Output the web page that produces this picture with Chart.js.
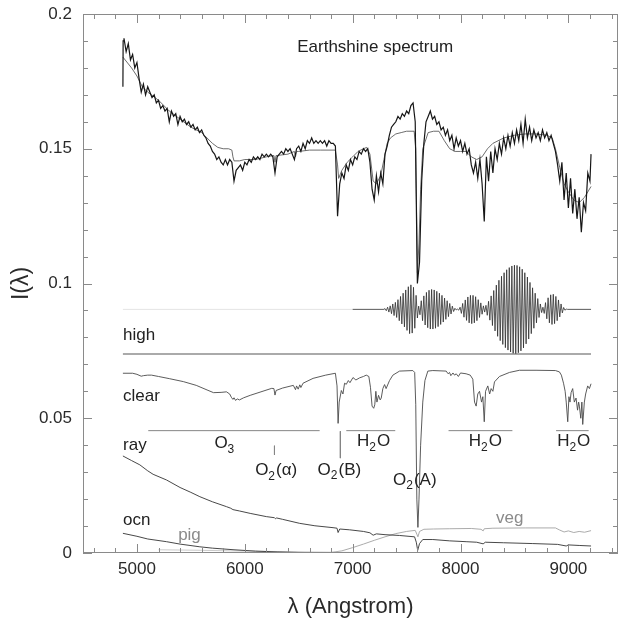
<!DOCTYPE html>
<html>
<head>
<meta charset="utf-8">
<script src="https://cdn.jsdelivr.net/npm/chart.js@4.4.1/dist/chart.umd.min.js"></script>
<style>
  html, body { margin: 0; padding: 0; background: #fff; }
  #wrap { width: 619px; height: 618px; }
</style>
</head>
<body>
<div id="wrap"><canvas id="spectrumChart" width="619" height="618"></canvas></div>
<script>
// axis ticks (minor every 200 A / 0.01, labelled every 1000 A / 0.05)
const xTicks = [4600, 4800, 5000, 5200, 5400, 5600, 5800, 6000, 6200, 6400, 6600, 6800,
  7000, 7200, 7400, 7600, 7800, 8000, 8200, 8400, 8600, 8800, 9000, 9200, 9400];
const xLabels = { 5000: '5000', 6000: '6000', 7000: '7000', 8000: '8000', 9000: '9000' };
const yTicks = [0, 0.01, 0.02, 0.03, 0.04, 0.05, 0.06, 0.07, 0.08, 0.09, 0.1,
  0.11, 0.12, 0.13, 0.14, 0.15, 0.16, 0.17, 0.18, 0.19, 0.2];
const yLabels = { 0: '0', 0.05: '0.05', 0.1: '0.1', 0.15: '0.15', 0.2: '0.2' };

// Earthshine spectrum, 20 A sampling from 4880 A
const specStart = 4880;
const specStep = 20;
const specValues = [
  0.191, 0.186, 0.189, 0.183, 0.185, 0.180, 0.182, 0.176, 0.171, 0.174,
  0.170, 0.173, 0.171, 0.169, 0.170, 0.167, 0.168, 0.165, 0.166, 0.164,
  0.165, 0.160, 0.164, 0.162, 0.163, 0.159, 0.162, 0.160, 0.161, 0.159,
  0.160, 0.158, 0.159, 0.157, 0.158, 0.156, 0.157, 0.155, 0.154, 0.152,
  0.151, 0.149, 0.148, 0.146, 0.147, 0.145, 0.144, 0.146, 0.144, 0.146,
  0.145, 0.138, 0.142, 0.143, 0.144, 0.142, 0.145, 0.144, 0.146, 0.145,
  0.147, 0.146, 0.147, 0.146, 0.148, 0.147, 0.148, 0.147, 0.148, 0.147,
  0.141, 0.147, 0.148, 0.149, 0.148, 0.150, 0.149, 0.150, 0.148, 0.146,
  0.150, 0.151, 0.149, 0.152, 0.150, 0.153, 0.152, 0.154, 0.152, 0.153,
  0.152, 0.153, 0.152, 0.153, 0.151, 0.153, 0.152, 0.152, 0.151, 0.125,
  0.137, 0.141, 0.139, 0.144, 0.142, 0.146, 0.144, 0.147, 0.146, 0.149,
  0.148, 0.150, 0.149, 0.150, 0.145, 0.135, 0.131, 0.140, 0.134, 0.141,
  0.137, 0.148, 0.151, 0.155, 0.158, 0.159, 0.160, 0.162, 0.161, 0.163,
  0.162, 0.164, 0.163, 0.166, 0.167, 0.160, 0.100, 0.108, 0.138, 0.152,
  0.160, 0.162, 0.164, 0.161, 0.162, 0.159, 0.160, 0.157, 0.158, 0.155,
  0.157, 0.153, 0.155, 0.150, 0.154, 0.151, 0.153, 0.149, 0.152, 0.148,
  0.150, 0.144, 0.141, 0.145, 0.139, 0.146, 0.137, 0.123, 0.147, 0.138,
  0.149, 0.141, 0.150, 0.146, 0.152, 0.148, 0.154, 0.150, 0.155, 0.151,
  0.156, 0.152, 0.157, 0.153, 0.159, 0.152, 0.161, 0.154, 0.158, 0.153,
  0.157, 0.154, 0.156, 0.153, 0.157, 0.154, 0.156, 0.153, 0.155, 0.152,
  0.149, 0.144, 0.138, 0.145, 0.131, 0.141, 0.128, 0.139, 0.126, 0.135,
  0.124, 0.132, 0.119, 0.130, 0.127, 0.141, 0.138
];
const specHead = [[4870, 0.173], [4872, 0.190]];
const specTail = [[9210, 0.148]];

// smooth model fit to the spectrum
const modelCurve = [
  [4870, 0.184], [4950, 0.180], [5000, 0.177], [5050, 0.173], [5100, 0.171],
  [5200, 0.168], [5300, 0.164], [5400, 0.161], [5500, 0.158], [5600, 0.156],
  [5700, 0.152], [5750, 0.1505], [5800, 0.150], [5850, 0.150], [5880, 0.1495],
  [5890, 0.147], [5900, 0.1455], [5950, 0.1455], [6000, 0.146], [6100, 0.146],
  [6200, 0.147], [6270, 0.1475], [6280, 0.145], [6290, 0.1475], [6300, 0.1475],
  [6400, 0.148], [6460, 0.149], [6470, 0.147], [6480, 0.149], [6500, 0.149],
  [6600, 0.1495], [6700, 0.1495], [6840, 0.1495], [6860, 0.144], [6870, 0.139],
  [6900, 0.142], [6950, 0.145], [7000, 0.147], [7050, 0.149], [7100, 0.150],
  [7130, 0.1505], [7160, 0.148], [7190, 0.138], [7220, 0.137], [7260, 0.140],
  [7290, 0.146], [7320, 0.152], [7350, 0.154], [7400, 0.1555], [7450, 0.156],
  [7500, 0.1565], [7570, 0.1565], [7585, 0.150], [7600, 0.104], [7615, 0.115],
  [7630, 0.135], [7650, 0.150], [7700, 0.156], [7750, 0.1565], [7800, 0.1565],
  [7850, 0.153], [7900, 0.150], [7950, 0.149], [8000, 0.149], [8050, 0.149],
  [8100, 0.147], [8150, 0.146], [8200, 0.147], [8250, 0.150], [8300, 0.152],
  [8400, 0.154], [8500, 0.155], [8600, 0.1555], [8700, 0.1555], [8800, 0.155],
  [8850, 0.154], [8880, 0.150], [8920, 0.143], [8960, 0.137], [9000, 0.134],
  [9050, 0.131], [9100, 0.130], [9150, 0.132], [9210, 0.136]
];

// "high" trace: ringing packets around the 0.0904 level, 12 A sampling from 7300 A
const ringStart = 7300;
const ringStep = 12;
const ringValues = [
  0.0907, 0.0899, 0.0912, 0.0894, 0.0917, 0.0888, 0.0924, 0.0881, 0.0930, 0.0874,
  0.0940, 0.0862, 0.0952, 0.0850, 0.0964, 0.0839, 0.0976, 0.0826, 0.0988, 0.0814,
  0.0995, 0.0816, 0.0986, 0.0834, 0.0956, 0.0872, 0.0916, 0.0884, 0.0936, 0.0862,
  0.0954, 0.0846, 0.0967, 0.0836, 0.0975, 0.0831, 0.0978, 0.0831, 0.0976, 0.0834,
  0.0971, 0.0840, 0.0964, 0.0848, 0.0956, 0.0857, 0.0946, 0.0867, 0.0936, 0.0877,
  0.0926, 0.0887, 0.0916, 0.0896, 0.0908, 0.0902, 0.0905, 0.0901, 0.0912, 0.0889,
  0.0926, 0.0875, 0.0939, 0.0863, 0.0950, 0.0854, 0.0956, 0.0851, 0.0956, 0.0854,
  0.0951, 0.0862, 0.0940, 0.0874, 0.0928, 0.0886, 0.0917, 0.0894, 0.0919, 0.0882,
  0.0934, 0.0864, 0.0954, 0.0844, 0.0974, 0.0824, 0.0994, 0.0804, 0.1012, 0.0788,
  0.1027, 0.0774, 0.1040, 0.0762, 0.1051, 0.0753, 0.1059, 0.0746, 0.1065, 0.0741,
  0.1068, 0.0740, 0.1067, 0.0743, 0.1062, 0.0750, 0.1053, 0.0761, 0.1040, 0.0776,
  0.1024, 0.0794, 0.1004, 0.0814, 0.0984, 0.0834, 0.0964, 0.0854, 0.0944, 0.0874,
  0.0924, 0.0892, 0.0912, 0.0889, 0.0929, 0.0869, 0.0947, 0.0854, 0.0958, 0.0848,
  0.0960, 0.0851, 0.0952, 0.0862, 0.0939, 0.0876, 0.0924, 0.0891, 0.0911, 0.0901,
  0.0905, 0.0904
];
const ringLead = [[7000, 0.0904], [7290, 0.0904]];
const ringTrail = [[9210, 0.0904]];
const ringFaint = [[4870, 0.0904], [7000, 0.0904]];
const highLevel = [[4870, 0.0738], [9210, 0.0738]];

const clearCurve = [
  [4870, 0.0667], [4960, 0.0667], [5000, 0.0663], [5040, 0.0656], [5060, 0.0658],
  [5100, 0.0660], [5135, 0.0660], [5200, 0.0655], [5300, 0.0647], [5430, 0.0636],
  [5550, 0.0622], [5650, 0.0605], [5710, 0.0595], [5780, 0.0596], [5830, 0.0598],
  [5860, 0.0590], [5875, 0.0578], [5890, 0.0570], [5900, 0.0576], [5915, 0.0566],
  [5930, 0.0572], [5950, 0.0568], [5990, 0.0576], [6050, 0.0585], [6150, 0.0598],
  [6250, 0.0611], [6270, 0.0610], [6280, 0.0586], [6290, 0.0603], [6350, 0.0612],
  [6450, 0.0622], [6470, 0.0606], [6480, 0.0620], [6495, 0.0608], [6510, 0.0624],
  [6520, 0.0614], [6540, 0.0630], [6633, 0.0648], [6750, 0.0660], [6840, 0.0667],
  [6855, 0.0620], [6865, 0.0481], [6875, 0.0560], [6895, 0.0603], [6910, 0.0590],
  [6925, 0.0630], [6941, 0.0626], [6960, 0.0640], [6975, 0.0632], [7003, 0.0651],
  [7030, 0.0642], [7065, 0.0650], [7100, 0.0655], [7126, 0.0660], [7150, 0.0655],
  [7165, 0.0615], [7180, 0.0545], [7195, 0.0537], [7205, 0.0550], [7215, 0.0600],
  [7225, 0.0560], [7240, 0.0585], [7255, 0.0568], [7265, 0.0575], [7280, 0.0610],
  [7296, 0.0625], [7310, 0.0610], [7342, 0.0640], [7373, 0.0660], [7435, 0.0675],
  [7558, 0.0677], [7575, 0.0670], [7585, 0.0550], [7595, 0.0200], [7605, 0.0095],
  [7615, 0.0200], [7630, 0.0400], [7650, 0.0560], [7670, 0.0640], [7697, 0.0675],
  [7743, 0.0677], [7867, 0.0675], [7885, 0.0665], [7898, 0.0670], [7910, 0.0658],
  [7930, 0.0668], [7945, 0.0660], [7960, 0.0665], [7980, 0.0655], [8000, 0.0668],
  [8052, 0.0665], [8090, 0.0660], [8114, 0.0645], [8130, 0.0560], [8145, 0.0545],
  [8160, 0.0590], [8176, 0.0600], [8195, 0.0560], [8207, 0.0580], [8220, 0.0487],
  [8232, 0.0600], [8253, 0.0620], [8270, 0.0590], [8284, 0.0610], [8300, 0.0600],
  [8315, 0.0635], [8361, 0.0655], [8454, 0.0670], [8546, 0.0678], [8700, 0.0678],
  [8880, 0.0677], [8917, 0.0672], [8935, 0.0660], [8955, 0.0630], [8970, 0.0600],
  [8980, 0.0560], [8994, 0.0487], [9005, 0.0580], [9015, 0.0560], [9025, 0.0595],
  [9040, 0.0610], [9055, 0.0560], [9071, 0.0575], [9085, 0.0530], [9095, 0.0560],
  [9102, 0.0545], [9115, 0.0500], [9125, 0.0560], [9133, 0.0477], [9148, 0.0560],
  [9160, 0.0590], [9179, 0.0620], [9195, 0.0610], [9210, 0.0628]
];

const rayCurve = [
  [4870, 0.0360], [4950, 0.0343], [5027, 0.0327], [5100, 0.0305], [5150, 0.0292],
  [5274, 0.0271], [5400, 0.0243], [5500, 0.0225], [5583, 0.0209], [5700, 0.0190],
  [5830, 0.0172], [5870, 0.0166], [5890, 0.0161], [5950, 0.0156], [6050, 0.0147],
  [6200, 0.0135], [6275, 0.0131], [6285, 0.0127], [6295, 0.0130], [6350, 0.0125],
  [6509, 0.0110], [6650, 0.0101], [6818, 0.0094], [6855, 0.0092], [6865, 0.0076],
  [6880, 0.0089], [6972, 0.0086], [7100, 0.0080], [7160, 0.0075], [7190, 0.0066],
  [7220, 0.0071], [7300, 0.0068], [7435, 0.0065], [7574, 0.0060], [7590, 0.0040],
  [7603, 0.0010], [7620, 0.0035], [7650, 0.0050], [7743, 0.0050], [7900, 0.0045],
  [8052, 0.0042], [8150, 0.0040], [8210, 0.0034], [8230, 0.0040], [8400, 0.0038],
  [8670, 0.0035], [8900, 0.0032], [8980, 0.0026], [9000, 0.0030], [9100, 0.0028],
  [9210, 0.0026]
];

const ocnCurve = [
  [4870, 0.0073], [5000, 0.0062], [5100, 0.0052], [5274, 0.0042], [5400, 0.0033],
  [5583, 0.0023], [5700, 0.0018], [5900, 0.0012], [6100, 0.0007], [6300, 0.0004],
  [6500, 0.0002], [6800, 0.0001], [7000, 0.0000]
];

const pigCurve = [
  [5200, 0.0012], [5600, 0.0010], [6000, 0.0007], [6400, 0.0005],
  [6800, 0.0003], [7000, 0.0002]
];

const vegCurve = [
  [6700, 0.0000], [6800, 0.0002], [6900, 0.0008], [7000, 0.0020], [7100, 0.0033],
  [7200, 0.0047], [7300, 0.0060], [7400, 0.0072], [7500, 0.0080], [7580, 0.0084],
  [7595, 0.0070], [7605, 0.0060], [7620, 0.0080], [7660, 0.0088], [7750, 0.0089],
  [7900, 0.0090], [8100, 0.0091], [8190, 0.0088], [8210, 0.0082], [8220, 0.0090],
  [8300, 0.0092], [8600, 0.0093], [8880, 0.0093], [8920, 0.0085], [8960, 0.0078],
  [9000, 0.0082], [9050, 0.0076], [9100, 0.0080], [9150, 0.0077], [9210, 0.0083]
];

// absorption band markers
const bandLines = [
  [[5105, 0.0454], [6694, 0.0454]],
  [[6275, 0.0398], [6275, 0.0364]],
  [[6886, 0.0452], [6886, 0.0352]],
  [[6941, 0.0454], [7395, 0.0454]],
  [[7889, 0.0454], [8481, 0.0454]],
  [[8886, 0.0454], [9188, 0.0454]]
];

// text: list of [string, isSubscript] pieces, anchored at [lambda, I]
const textLabels = [
  { parts: [['Earthshine spectrum', 0]], at: [6486, 0.1878], color: '#222' },
  { parts: [['high', 0]], at: [4871, 0.0809], color: '#222' },
  { parts: [['clear', 0]], at: [4871, 0.0580], color: '#222' },
  { parts: [['ray', 0]], at: [4871, 0.0401], color: '#222' },
  { parts: [['ocn', 0]], at: [4871, 0.0122], color: '#222' },
  { parts: [['pig', 0]], at: [5382, 0.0067], color: '#8a8a8a' },
  { parts: [['veg', 0]], at: [8330, 0.0129], color: '#8a8a8a' },
  { parts: [['O', 0], ['3', 1]], at: [5718, 0.0407], color: '#222' },
  { parts: [['O', 0], ['2', 1], ['(\u03b1)', 0]], at: [6096, 0.0305], color: '#222' },
  { parts: [['O', 0], ['2', 1], ['(B)', 0]], at: [6675, 0.0308], color: '#222' },
  { parts: [['O', 0], ['2', 1], ['(A)', 0]], at: [7374, 0.0271], color: '#222' },
  { parts: [['H', 0], ['2', 1], ['O', 0]], at: [7040, 0.0413], color: '#222' },
  { parts: [['H', 0], ['2', 1], ['O', 0]], at: [8076, 0.0413], color: '#222' },
  { parts: [['H', 0], ['2', 1], ['O', 0]], at: [8896, 0.0413], color: '#222' }
];

const FONT = '"Liberation Sans", Arial, Helvetica, sans-serif';
Chart.defaults.font.family = FONT;

const pts = pairs => pairs.map(([x, y]) => ({ x, y }));
const gridPts = (start, step, values) => values.map((y, i) => ({ x: start + i * step, y }));
const isLabelled = (labels, v) => Object.keys(labels).some(k => Math.abs(+k - v) < 1e-9);
const labelFor = (labels, v) => {
  const k = Object.keys(labels).find(k => Math.abs(+k - v) < 1e-9);
  return k === undefined ? '' : labels[k];
};

function line(data, color, width) {
  return {
    data, borderColor: color, borderWidth: width,
    pointRadius: 0, fill: false, tension: 0, parsing: false
  };
}

const datasets = [
  line([...pts(specHead), ...gridPts(specStart, specStep, specValues), ...pts(specTail)], '#161616', 1.2),
  line(pts(modelCurve), '#5c5c5c', 0.9),
  line([...pts(ringLead), ...gridPts(ringStart, ringStep, ringValues), ...pts(ringTrail)], '#2e2e2e', 0.8),
  line(pts(ringFaint), '#e4e4e4', 1),
  line(pts(highLevel), '#8e8e8e', 1.5),
  line(pts(clearCurve), '#4a4a4a', 0.9),
  line(pts(rayCurve), '#333333', 0.9),
  line(pts(ocnCurve), '#333333', 0.9),
  line(pts(pigCurve), '#c4c4c4', 0.9),
  line(pts(vegCurve), '#a2a2a2', 0.9),
  ...bandLines.map(b => line(pts(b), '#858585', 1))
];

// frame with inward ticks on all four sides
const framePlugin = {
  id: 'frame',
  afterDraw(chart) {
    const { ctx, chartArea: a, scales: { x, y } } = chart;
    ctx.save();
    ctx.strokeStyle = '#8a8a8a';
    ctx.lineWidth = 1;
    ctx.strokeRect(a.left + 0.5, a.top + 0.5, a.right - a.left - 1, a.bottom - a.top - 1);
    ctx.beginPath();
    x.ticks.forEach(t => {
      const px = Math.round(x.getPixelForValue(t.value)) + 0.5;
      const len = isLabelled(xLabels, t.value) ? 9 : 5;
      ctx.moveTo(px, a.bottom); ctx.lineTo(px, a.bottom - len);
      ctx.moveTo(px, a.top); ctx.lineTo(px, a.top + len);
    });
    y.ticks.forEach(t => {
      const py = Math.round(y.getPixelForValue(t.value)) + 0.5;
      const len = isLabelled(yLabels, t.value) ? 9 : 5;
      ctx.moveTo(a.left, py); ctx.lineTo(a.left + len, py);
      ctx.moveTo(a.right, py); ctx.lineTo(a.right - len, py);
    });
    ctx.stroke();
    ctx.restore();
  }
};

// curve names and band labels with subscripts
const labelPlugin = {
  id: 'curveLabels',
  afterDatasetsDraw(chart) {
    const { ctx, scales: { x, y } } = chart;
    ctx.save();
    ctx.textBaseline = 'middle';
    ctx.textAlign = 'left';
    textLabels.forEach(lbl => {
      let px = x.getPixelForValue(lbl.at[0]);
      const py = y.getPixelForValue(lbl.at[1]);
      ctx.fillStyle = lbl.color;
      lbl.parts.forEach(([s, sub]) => {
        ctx.font = sub ? '12px ' + FONT : '17px ' + FONT;
        ctx.fillText(s, px, sub ? py + 6 : py);
        px += ctx.measureText(s).width + (sub ? 1 : 0);
      });
    });
    ctx.restore();
  }
};

new Chart(document.getElementById('spectrumChart'), {
  type: 'line',
  data: { datasets },
  options: {
    responsive: false,
    animation: false,
    layout: { padding: { left: 0, right: 1, top: 14, bottom: 0 } },
    plugins: { legend: { display: false }, tooltip: { enabled: false } },
    scales: {
      x: {
        type: 'linear',
        min: 4500,
        max: 9460,
        grid: { display: false, drawTicks: false },
        border: { display: false },
        afterBuildTicks(scale) { scale.ticks = xTicks.map(v => ({ value: v })); },
        ticks: {
          autoSkip: false,
          maxRotation: 0,
          padding: 6,
          color: '#2a2a2a',
          font: { size: 17 },
          callback: v => labelFor(xLabels, v)
        },
        title: {
          display: true,
          text: '\u03bb (Angstrom)',
          color: '#2a2a2a',
          font: { size: 22, lineHeight: 1 },
          padding: { top: 0, bottom: 0 }
        },
        afterFit(scale) { scale.height = 65; }
      },
      y: {
        type: 'linear',
        min: 0,
        max: 0.2,
        grid: { display: false, drawTicks: false },
        border: { display: false },
        afterBuildTicks(scale) { scale.ticks = yTicks.map(v => ({ value: v })); },
        ticks: {
          autoSkip: false,
          padding: 11,
          color: '#2a2a2a',
          font: { size: 17, lineHeight: 0.25 },
          callback: v => labelFor(yLabels, v)
        },
        title: {
          display: true,
          text: 'I(\u03bb)',
          color: '#2a2a2a',
          font: { size: 23, lineHeight: 1 },
          padding: { top: 10, bottom: 0 }
        },
        afterFit(scale) { scale.width = 83; }
      }
    }
  },
  plugins: [framePlugin, labelPlugin]
});
</script>
</body>
</html>
